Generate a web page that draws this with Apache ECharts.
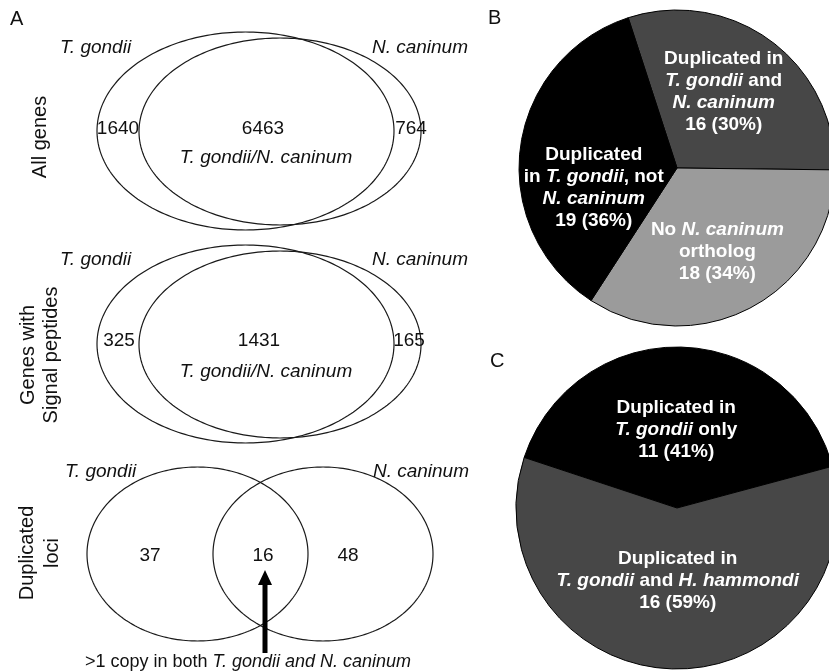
<!DOCTYPE html>
<html><head><meta charset="utf-8">
<script src="https://cdn.jsdelivr.net/npm/echarts@6/dist/echarts.min.js"></script>
<style>html,body{margin:0;padding:0;background:#fff}#c{width:829px;height:672px}</style>
</head><body><div id="c"></div>
<script>
const FONT = '"Liberation Sans", Arial, Helvetica, sans-serif';

// ---------- Panel A: Venn counts [T. gondii only, shared, N. caninum only]
const vennRowTitles = ['All genes', 'Genes with\nSignal peptides', 'Duplicated\nloci'];
const vennAllGenes = [1640, 6463, 764];
const vennSignalPeptides = [325, 1431, 165];
const vennDuplicatedLoci = [37, 16, 48];
const speciesLeft = 'T. gondii';
const speciesRight = 'N. caninum';
const sharedLabel = 'T. gondii/N. caninum';
const arrowCaption = '>1 copy in both {i|T. gondii and N. caninum}';

// ---------- Panel B
const pieBLabels = [
  'Duplicated in\n{i|T. gondii} and\n{i|N. caninum}',
  'No {i|N. caninum}\northolog',
  'Duplicated\nin {i|T. gondii}, not\n{i|N. caninum}'
];
const pieBValues = [16, 18, 19];
const pieBColors = ['#474747', '#9b9b9b', '#000000'];

// ---------- Panel C
const pieCLabels = [
  'Duplicated in\n{i|T. gondii} only',
  'Duplicated in\n{i|T. gondii} and {i|H. hammondi}'
];
const pieCValues = [11, 16];
const pieCColors = ['#000000', '#474747'];

// ---------- layout (geometry only)
const vennLayout = [
  { a: {cx: 245.5, cy: 131, rx: 148.5, ry: 99}, b: {cx: 280, cy: 131.5, rx: 141, ry: 93.5},
    nums: [[118, 129], [263, 129], [411, 129]], shared: [266, 158], spY: 48, spL: 60, spR: 468 },
  { a: {cx: 245.5, cy: 344, rx: 148.5, ry: 99}, b: {cx: 280, cy: 344.5, rx: 141, ry: 93.5},
    nums: [[119, 341], [259, 341], [409, 341]], shared: [266, 372], spY: 260, spL: 60, spR: 468 },
  { a: {cx: 197.5, cy: 554, rx: 110.5, ry: 87}, b: {cx: 323, cy: 554, rx: 110, ry: 87},
    nums: [[150, 556], [263, 556], [348, 556]], shared: null, spY: 472, spL: 65, spR: 469 }
];
const vennData = [vennAllGenes, vennSignalPeptides, vennDuplicatedLoci];
const pieBLabelShift = [[-9, -1], [-4, 1], [10, 32]];
const pieCLabelShift = [[-3, 1], [3, -6]];

function ellipsePoints(api, e) {
  const c = api.coord([e.cx, e.cy]);
  const pts = [];
  for (let k = 0; k < 240; k++) {
    const t = k / 240 * Math.PI * 2;
    pts.push([c[0] + e.rx * Math.cos(t), c[1] + e.ry * Math.sin(t)]);
  }
  return pts;
}

function renderVenn(params, api) {
  const i = params.dataIndex;
  const L = vennLayout[i];
  const counts = vennData[i];
  const children = [];
  [L.a, L.b].forEach(e => children.push({
    type: 'polygon', shape: { points: ellipsePoints(api, e) },
    style: { fill: 'none', stroke: '#1a1a1a', lineWidth: 1.2 }
  }));
  counts.forEach((v, j) => {
    const p = api.coord(L.nums[j]);
    children.push({ type: 'text', x: p[0], y: p[1], style: {
      text: String(v), font: '19px ' + FONT, fill: '#111', align: 'center', verticalAlign: 'middle' } });
  });
  if (L.shared) {
    const p = api.coord(L.shared);
    children.push({ type: 'text', x: p[0], y: p[1], style: {
      text: sharedLabel, font: 'italic 19px ' + FONT, fill: '#111', align: 'center', verticalAlign: 'middle' } });
  }
  const pl = api.coord([L.spL, L.spY]);
  children.push({ type: 'text', x: pl[0], y: pl[1], style: {
    text: speciesLeft, font: 'italic 19px ' + FONT, fill: '#111', align: 'left', verticalAlign: 'middle' } });
  const pr = api.coord([L.spR, L.spY]);
  children.push({ type: 'text', x: pr[0], y: pr[1], style: {
    text: speciesRight, font: 'italic 19px ' + FONT, fill: '#111', align: 'right', verticalAlign: 'middle' } });
  if (i === 2) {
    const s0 = api.coord([265, 653]), s1 = api.coord([265, 582]);
    children.push({ type: 'line', shape: { x1: s0[0], y1: s0[1], x2: s1[0], y2: s1[1] },
      style: { stroke: '#000', lineWidth: 5 } });
    const t = api.coord([265, 570]), bl = api.coord([258, 585]), br = api.coord([272, 585]);
    children.push({ type: 'polygon', shape: { points: [t, bl, br] }, style: { fill: '#000' } });
  }
  return { type: 'group', children };
}

const richItalic = (size) => ({ i: { fontStyle: 'italic', fontWeight: 'bold', color: '#fff', fontSize: size, fontFamily: FONT, lineHeight: 22 } });

function pieLabelFormatter(labels) {
  return p => labels[p.dataIndex] + '\n' + p.value + ' (' + Math.round(p.percent) + '%)';
}
function shiftLayout(shifts) {
  return p => ({ dx: shifts[p.dataIndex][0], dy: shifts[p.dataIndex][1] });
}

const transparentItem = { color: 'rgba(0,0,0,0)', borderWidth: 0 };

const option = {
  backgroundColor: '#fff',
  animation: false,
  grid: { left: 0, right: 0, top: 0, bottom: 0 },
  xAxis: { type: 'value', min: 0, max: 829, show: false },
  yAxis: { type: 'value', min: 0, max: 672, inverse: true, show: false },
  graphic: [
    { type: 'text', left: 10, top: 9, style: { text: 'A', font: '20px ' + FONT, fill: '#111' } },
    { type: 'text', left: 488, top: 8, style: { text: 'B', font: '20px ' + FONT, fill: '#111' } },
    { type: 'text', left: 490, top: 351, style: { text: 'C', font: '20px ' + FONT, fill: '#111' } },
    { type: 'text', x: 40, y: 137, rotation: Math.PI / 2, style: { text: vennRowTitles[0], font: '20px ' + FONT, fill: '#111', align: 'center', verticalAlign: 'middle', lineHeight: 23 } },
    { type: 'text', x: 40, y: 355, rotation: Math.PI / 2, style: { text: vennRowTitles[1], font: '20px ' + FONT, fill: '#111', align: 'center', verticalAlign: 'middle', lineHeight: 23 } },
    { type: 'text', x: 40, y: 553, rotation: Math.PI / 2, style: { text: vennRowTitles[2], font: '20px ' + FONT, fill: '#111', align: 'center', verticalAlign: 'middle', lineHeight: 25 } },
    { type: 'text', x: 85, y: 662, style: { text: arrowCaption, font: '18px ' + FONT, fill: '#111', align: 'left', verticalAlign: 'middle',
        rich: { i: { fontStyle: 'italic', fontSize: 18, fontFamily: FONT, fill: '#111' } } } }
  ],
  series: [
    { type: 'custom', coordinateSystem: 'cartesian2d', silent: true, data: [[0, 0], [0, 0], [0, 0]], renderItem: renderVenn, clip: false },
    // Pie B
    { type: 'pie', center: [677, 168], radius: [0, 158], startAngle: 108, clockwise: true, silent: true,
      data: pieBValues.map((v, k) => ({ value: v, itemStyle: { color: pieBColors[k] } })),
      itemStyle: { borderColor: '#000', borderWidth: 1 }, label: { show: false }, labelLine: { show: false } },
    { type: 'pie', center: [677, 168], radius: [60, 122], startAngle: 108, clockwise: true, silent: true,
      avoidLabelOverlap: false, itemStyle: transparentItem, emphasis: { disabled: true },
      data: pieBValues.map(v => ({ value: v })),
      labelLayout: shiftLayout(pieBLabelShift),
      label: { show: true, position: 'inside', formatter: pieLabelFormatter(pieBLabels), color: '#fff', fontWeight: 'bold',
        fontSize: 19, fontFamily: FONT, lineHeight: 22, align: 'center', rich: richItalic(19) }, labelLine: { show: false } },
    // Pie C
    { type: 'pie', center: [677, 508], radius: [0, 161], startAngle: 161.7, clockwise: true, silent: true,
      data: pieCValues.map((v, k) => ({ value: v, itemStyle: { color: pieCColors[k] } })),
      itemStyle: { borderColor: '#000', borderWidth: 1 }, label: { show: false }, labelLine: { show: false } },
    { type: 'pie', center: [677, 508], radius: [50, 102], startAngle: 161.7, clockwise: true, silent: true,
      avoidLabelOverlap: false, itemStyle: transparentItem, emphasis: { disabled: true },
      data: pieCValues.map(v => ({ value: v })),
      labelLayout: shiftLayout(pieCLabelShift),
      label: { show: true, position: 'inside', formatter: pieLabelFormatter(pieCLabels), color: '#fff', fontWeight: 'bold',
        fontSize: 19, fontFamily: FONT, lineHeight: 22, align: 'center', rich: richItalic(19) }, labelLine: { show: false } }
  ]
};

const chart = echarts.init(document.getElementById('c'), null, { renderer: 'canvas' });
chart.setOption(option);
</script>
</body></html>
